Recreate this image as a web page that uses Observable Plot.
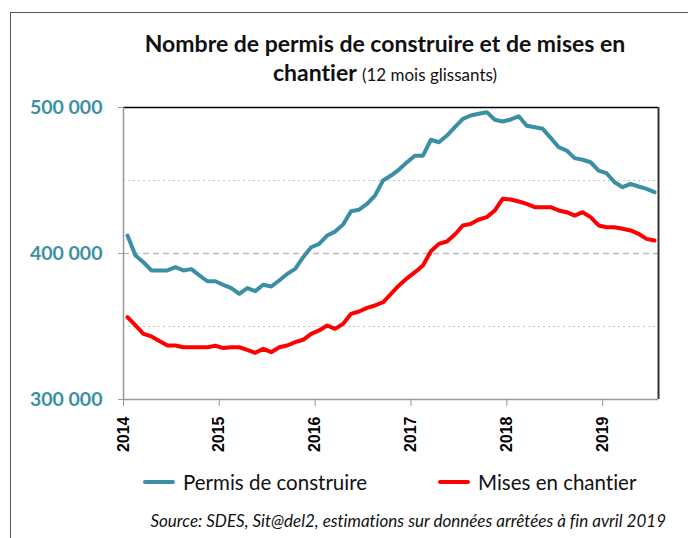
<!DOCTYPE html>
<html><head><meta charset="utf-8">
<script src="https://cdn.jsdelivr.net/npm/d3@7"></script>
<script src="https://cdn.jsdelivr.net/npm/@observablehq/plot@0.6"></script>
<style>
body{margin:0;background:#fff;width:688px;height:538px;overflow:hidden;position:relative;font-family:Lato,"Open Sans",sans-serif;color:#111;font-variant-ligatures:none}
#frame{position:absolute;left:10px;top:12px;width:720px;height:600px;border-left:1px solid #555;border-top:1px solid #555}
#title{position:absolute;left:85px;width:600px;top:29px;text-align:center;font-weight:bold;font-size:23px;line-height:29px;white-space:nowrap}
#title .sub{font-weight:normal;font-size:17px}
#chart{position:absolute;left:0;top:90px}
.sw{position:absolute;top:480px;width:32px;height:4px;border-radius:2px}
.lt{position:absolute;top:469px;font-size:20.5px;line-height:26px;white-space:nowrap}
#source{position:absolute;right:22px;top:510px;font-style:italic;font-size:17px;white-space:nowrap}
</style></head>
<body>
<div id="frame"></div>
<div id="title">Nombre de permis de construire et de mises en<br>chantier <span class="sub">(12 mois glissants)</span></div>
<div id="chart"></div>
<span class="sw" style="left:143px;background:#3b8fa4"></span><span class="lt" style="left:183px">Permis de construire</span>
<span class="sw" style="left:438px;background:#ff0000"></span><span class="lt" style="left:478px">Mises en chantier</span>
<div id="source">Source: SDES, Sit@del2, estimations sur données arrêtées à fin avril 2019</div>
<script>
const firstYear = 2014;
const yearTicks = [2014, 2015, 2016, 2017, 2018, 2019];
const yTicks = [300000, 400000, 500000];
const seriesNames = ["Permis de construire", "Mises en chantier"];
const seriesColors = ["#3b8fa4", "#ff0000"];
// monthly values, Jan 2014 .. Jul 2019
const permis = [412300,398600,394000,388400,388400,388400,390600,388400,389300,385000,381000,381000,
  378500,376300,372400,376300,374200,378600,377400,381500,386000,389500,397500,404300,
  406600,412300,415000,419900,429000,430000,434000,439700,450000,453400,457500,462500,
  467000,467000,477900,476200,480800,486500,492200,494500,495700,496800,491600,490400,
  491800,494000,487500,486500,485400,479200,472800,470500,465300,464200,462500,456800,
  455000,448800,445400,447700,445900,444300,442000];
const mises = [356400,350700,345000,343200,340000,337000,337000,335800,335800,335800,335800,336800,
  335200,335800,335800,334000,332000,334700,332400,335800,337000,339300,340900,345000,
  347300,350700,348400,351800,358700,360300,362800,364400,366600,372400,378100,383000,
  387200,391800,401600,406600,408200,413000,419200,420300,423300,424900,429500,437500,
  437000,435600,434000,431700,431700,431700,429500,428300,426000,428300,424900,419200,
  418000,418000,416900,415800,413500,410000,408900];

const rows = [];
permis.forEach((v, i) => rows.push({m: i + 0.5, v, s: seriesNames[0]}));
mises.forEach((v, i) => rows.push({m: i + 0.5, v, s: seriesNames[1]}));
const nMonths = permis.length;
const fmt = d => d3.format(",")(d).replace(/,/g, " ");

const chart = Plot.plot({
  width: 688, height: 380,
  marginTop: 17, marginBottom: 71, marginLeft: 123, marginRight: 30,
  style: {fontFamily: "Lato, sans-serif", overflow: "visible", background: "transparent"},
  x: {type: "linear", domain: [0, nMonths]},
  y: {domain: [300000, 500000]},
  color: {domain: seriesNames, range: seriesColors},
  marks: [
    Plot.ruleY([350000, 450000], {stroke: "#c4c4c4", strokeDasharray: "2,3"}),
    Plot.ruleY([400000], {stroke: "#bbbbbb", strokeWidth: 1.5, strokeDasharray: "6,4"}),
    Plot.ruleY([500000], {stroke: "#000", strokeWidth: 1.5}),
    Plot.ruleX([nMonths], {stroke: "#333", strokeWidth: 2}),
    Plot.ruleX([0], {stroke: "#999", strokeWidth: 1.5}),
    Plot.ruleY([300000], {stroke: "#999", strokeWidth: 1.5}),
    Plot.axisY({ticks: yTicks, tickSize: 5, tickPadding: 16, tickFormat: fmt, label: null,
      stroke: "#999", fill: "#3b8fa4", fontSize: 19.5, fontWeight: "bold"}),
    Plot.axisX({ticks: yearTicks.map(y => (y - firstYear) * 12), tickFormat: d => String(firstYear + d / 12),
      tickRotate: -90, tickSize: 7, tickPadding: 10, label: null, stroke: "#999", fill: "#000",
      fontSize: 16, fontWeight: "bold", fontFamily: "Liberation Sans, Arial, sans-serif"}),
    Plot.line(rows, {x: "m", y: "v", stroke: "s", z: "s", strokeWidth: 4,
      strokeLinejoin: "round", strokeLinecap: "round"})
  ]
});
document.getElementById("chart").appendChild(chart);
</script>
</body></html>
